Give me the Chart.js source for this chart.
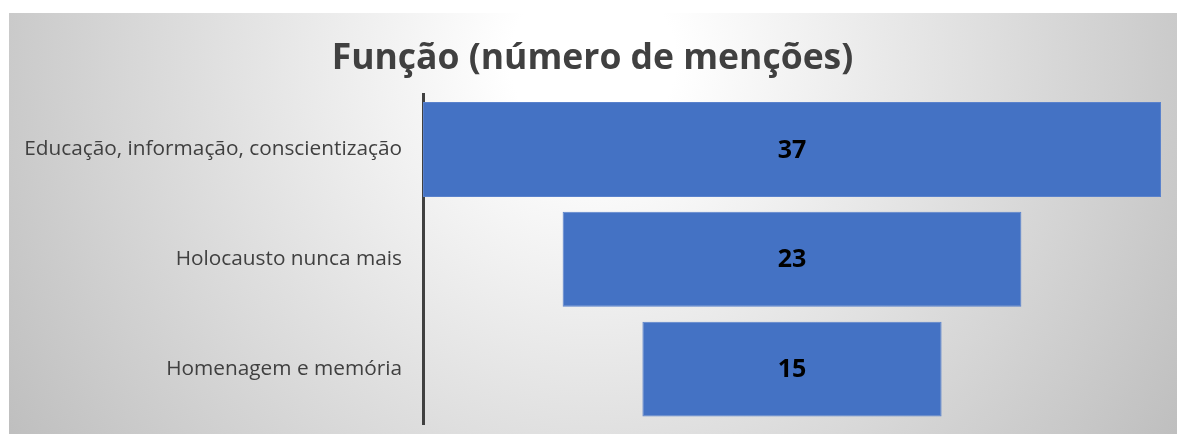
<!DOCTYPE html>
<html lang="pt">
<head>
<meta charset="utf-8">
<title>Função (número de menções)</title>
<script src="https://cdn.jsdelivr.net/npm/chart.js@4/dist/chart.umd.min.js"></script>
<style>
  html, body { margin: 0; padding: 0; background: #ffffff; }
  #wrap { position: relative; width: 1177px; height: 434px; }
  canvas { display: block; }
</style>
</head>
<body>
<div id="wrap"><canvas id="funil"></canvas></div>
<script>
// dados do gráfico (funil: barras centradas)
const categorias = ['Educação, informação, conscientização', 'Holocausto nunca mais', 'Homenagem e memória'];
const mencoes = [37, 23, 15];
const tituloGrafico = 'Função (número de menções)';

const maxValor = Math.max(...mencoes);

// fundo com gradiente radial, como no original
const fundoPlugin = {
  id: 'fundo',
  beforeDraw(chart) {
    const ctx = chart.ctx;
    ctx.save();
    const g = ctx.createRadialGradient(593, 60, 0, 593, 60, 690);
    g.addColorStop(0, '#ffffff');
    g.addColorStop(0.12, '#ffffff');
    g.addColorStop(1, '#bfbfbf');
    ctx.fillStyle = g;
    ctx.fillRect(9, 13, chart.width - 9, chart.height - 13);
    ctx.restore();
  }
};

// rótulos de valor no centro de cada barra
const rotulosPlugin = {
  id: 'rotulos',
  afterDatasetsDraw(chart) {
    const ctx = chart.ctx;
    const meta = chart.getDatasetMeta(0);
    ctx.save();
    ctx.font = 'bold 25px "Open Sans"';
    ctx.fillStyle = '#000000';
    ctx.textAlign = 'center';
    ctx.textBaseline = 'middle';
    meta.data.forEach((bar, i) => {
      const c = bar.getCenterPoint();
      ctx.fillText(String(mencoes[i]), c.x, c.y + 1);
    });
    ctx.restore();
  }
};

const ctx = document.getElementById('funil').getContext('2d');

new Chart(ctx, {
  type: 'bar',
  data: {
    labels: categorias,
    datasets: [{
      data: mencoes.map(v => [-v / 2, v / 2]),
      backgroundColor: '#4472c4',
      borderColor: '#5a82cc',
      borderWidth: 1,
      borderSkipped: false,
      categoryPercentage: 1,
      barPercentage: 0.864
    }]
  },
  options: {
    indexAxis: 'y',
    responsive: true,
    maintainAspectRatio: false,
    animation: false,
    layout: { padding: { left: 24, right: 16, top: 13, bottom: 10 } },
    scales: {
      x: {
        display: false,
        min: -maxValor / 2,
        max: maxValor / 2
      },
      y: {
        afterFit(scale) {
          scale.width = 399;
          scale.paddingTop = 0;
          scale.paddingBottom = 0;
        },
        grid: { display: false, drawTicks: false },
        border: { display: true, color: '#404040', width: 3 },
        ticks: {
          padding: 21,
          color: '#404040',
          font: { family: '"Open Sans"', size: 20.8 }
        }
      }
    },
    plugins: {
      legend: { display: false },
      tooltip: { enabled: false },
      title: {
        display: true,
        text: tituloGrafico,
        color: '#404040',
        font: { family: '"Open Sans"', size: 35.5, weight: 'bold' },
        padding: { top: 24.5, bottom: 14.5 }
      }
    }
  },
  plugins: [fundoPlugin, rotulosPlugin]
});
</script>
</body>
</html>
